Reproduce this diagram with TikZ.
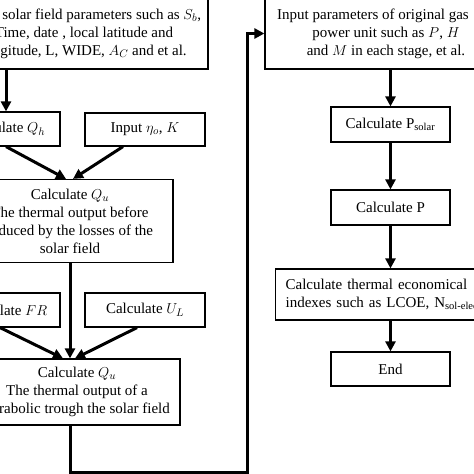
\documentclass[tikz,border=0pt]{standalone}
\usepackage{fontspec}
\setmainfont{Liberation Serif}
\usetikzlibrary{arrows.meta}

\begin{document}
\begin{tikzpicture}[x=1pt,y=-1pt,
  box/.style={draw, line width=1.2pt, align=center, inner sep=2pt,
    font=\fontsize{15}{18}\selectfont},
  arr/.style={line width=3pt, -{Triangle[length=10pt,width=10pt]}}]

% Frame of the figure (boxes are cut at the edges)
\useasboundingbox (0,0) rectangle (474,474);
\clip (0,0) rectangle (474,474);

% Left column: solar field
\node[box, minimum width=248pt, minimum height=71pt] (par) at (84,33.5)
  {Input solar field parameters such as $S_b$,\\ Time, date , local latitude and\\ longitude, L, WIDE, $A_C$ and et al.};
\node[box, minimum width=108pt, minimum height=34pt] (qh) at (6,129) {Calculate $Q_h$};
\node[box, minimum width=120pt, minimum height=33pt] (eta) at (145,129.5) {Input $\eta_{o}$,\ $K$};
\node[box, minimum width=206pt, minimum height=83pt] (qua) at (70,221)
  {Calculate $Q_u$\\ The thermal output before\\ reduced by the losses of the\\ solar field};
\node[box, minimum width=108pt, minimum height=34pt] (fr) at (6,310) {Calculate $FR$};
\node[box, minimum width=120pt, minimum height=34pt] (ul) at (145,310) {Calculate $U_L$};
\node[box, minimum width=206pt, minimum height=66pt] (qub) at (77,392)
  {Calculate $Q_u$\\ The thermal output of a\\ Parabolic trough the solar field};

% Right column: power unit
\node[box, minimum width=242pt, minimum height=71pt] (gas) at (386,33.5)
  {Input parameters of original gas\hspace*{26pt}\\ power unit such as $P$,\ $H$\\ and $M$ in each stage, et al.};
\node[box, minimum width=119pt, minimum height=35pt] (psolar) at (390.5,124.5) {Calculate P\textsubscript{solar}};
\node[box, minimum width=119pt, minimum height=35pt] (pp) at (390.5,207.5) {Calculate P};
\node[box, anchor=west, text width=220pt, align=left, inner xsep=10pt, minimum height=51pt] (lcoe) at (275,294.5)
  {Calculate thermal economical\\ indexes such as LCOE, N\textsubscript{sol-elec},};
\node[box, minimum width=119pt, minimum height=34pt] (stop) at (390.5,369) {End};

% Connectors, left column
\draw[arr] (par.south -| qh) -- (qh.north);
\draw[arr] (qh.south) -- ([xshift=-4pt]qua.north);
\draw[arr] ([xshift=-22pt]eta.south) -- ([xshift=3pt]qua.north);
\draw[arr] (qua.south) -- (qua.south |- qub.north);
\draw[arr] ([xshift=-6pt]fr.south) -- ([xshift=-14pt]qub.north);
\draw[arr] ([xshift=-8pt]ul.south) -- ([xshift=-2pt]qub.north);

% Link to the power unit
\coordinate (turn) at (247,472);
\draw[arr] (qub.south -| qua.south) |- (turn) |- (gas.west);

% Connectors, right column
\draw[arr] (psolar.north |- gas.south) -- (psolar.north);
\draw[arr] (psolar.south) -- (pp.north);
\draw[arr] (pp.south) -- (pp.south |- lcoe.north);
\draw[arr] (lcoe.south -| stop) -- (stop.north);

\end{tikzpicture}
\end{document}
